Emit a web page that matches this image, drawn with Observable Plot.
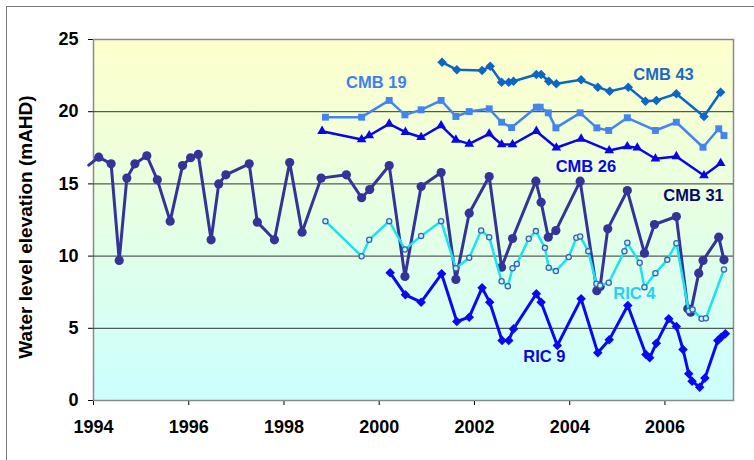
<!DOCTYPE html>
<html>
<head>
<meta charset="utf-8">
<script src="https://cdn.jsdelivr.net/npm/d3@7"></script>
<script src="https://cdn.jsdelivr.net/npm/@observablehq/plot@0.6"></script>
<style>
  html, body { margin: 0; padding: 0; background: #ffffff; overflow: hidden; }
  #wrap { position: relative; width: 754px; height: 460px; }
  #outer { position: absolute; left: 6px; top: 6px; width: 900px; height: 600px;
           border-top: 1px solid #7a7a7a; border-left: 1px solid #7a7a7a; pointer-events: none; }
  #chart { position: absolute; left: 0; top: 0; }
</style>
</head>
<body>
<div id="wrap"><div id="chart"></div><div id="outer"></div></div>
<script>
// ---- data (years as decimal, water level elevation in mAHD) ----
const xTicks = [1994, 1996, 1998, 2000, 2002, 2004, 2006];
const yTicks = [0, 5, 10, 15, 20, 25];

const cmb31X = [1993.9,1994.11,1994.37,1994.54,1994.70,1994.87,1995.12,1995.34,1995.61,1995.87,1996.04,1996.20,1996.47,1996.63,1996.78,1997.27,1997.44,1997.80,1998.12,1998.38,1998.78,1999.31,1999.63,1999.80,2000.21,2000.54,2000.88,2001.30,2001.61,2001.89,2002.31,2002.57,2002.80,2003.29,2003.40,2003.55,2003.71,2004.22,2004.57,2004.64,2004.80,2005.21,2005.57,2005.78,2006.24,2006.48,2006.54,2006.71,2006.80,2007.13,2007.24];
const cmb31Y = [16.3,16.85,16.39,9.70,15.40,16.39,16.95,15.28,12.42,16.27,16.81,17.04,11.13,15.0,15.63,16.39,12.35,11.13,16.48,11.66,15.40,15.63,14.04,14.61,16.27,8.59,14.82,15.79,8.38,12.97,15.51,9.23,11.22,15.19,13.73,11.31,11.77,15.19,7.6,7.9,11.89,14.54,10.20,12.19,12.74,6.35,6.12,8.82,9.70,11.31,9.74];

const ric4X = [1998.87,1999.63,1999.79,2000.21,2000.54,2000.88,2001.30,2001.61,2001.89,2002.14,2002.31,2002.57,2002.70,2002.80,2002.89,2003.14,2003.29,2003.48,2003.56,2003.71,2003.98,2004.14,2004.22,2004.39,2004.56,2004.64,2004.82,2005.15,2005.21,2005.47,2005.57,2005.80,2006.05,2006.24,2006.50,2006.58,2006.77,2006.86,2007.24];
const ric4Y = [12.42,9.99,11.13,12.42,10.46,11.40,12.42,9.16,9.88,11.77,11.31,8.26,7.92,9.16,9.46,11.2,11.73,10.57,9.19,8.96,9.93,11.27,11.36,10.34,8.08,7.96,8.15,10.34,10.92,9.54,7.85,8.82,9.74,10.89,6.2,6.3,5.66,5.70,9.07];

const ric9X = [2000.23,2000.55,2000.88,2001.31,2001.63,2001.89,2002.16,2002.32,2002.58,2002.72,2002.82,2003.30,2003.40,2003.74,2004.24,2004.59,2004.83,2005.22,2005.60,2005.68,2005.82,2006.08,2006.24,2006.38,2006.50,2006.57,2006.73,2006.84,2007.11,2007.18,2007.27];
const ric9Y = [8.84,7.32,6.81,8.77,5.47,5.77,7.80,6.81,4.16,4.16,4.96,7.39,6.81,3.81,7.04,3.30,4.20,6.58,3.19,2.96,3.97,5.66,5.12,3.53,1.85,1.34,0.92,1.55,4.16,4.38,4.62];

const cmb19X = [1998.87,1999.63,2000.21,2000.54,2000.88,2001.30,2001.61,2001.89,2002.31,2002.57,2002.78,2003.30,2003.38,2003.55,2003.71,2004.22,2004.57,2004.82,2005.21,2005.80,2006.24,2006.80,2007.13,2007.24];
const cmb19Y = [19.62,19.62,20.78,19.78,20.13,20.78,19.67,20.01,20.20,19.27,18.9,20.31,20.31,19.92,18.88,19.92,18.88,18.70,19.58,18.70,19.27,17.54,18.82,18.35];

const cmb26X = [1998.80,1999.63,1999.79,2000.21,2000.55,2000.88,2001.30,2001.61,2001.89,2002.31,2002.57,2002.80,2003.30,2003.72,2004.24,2004.83,2005.21,2005.42,2005.80,2006.24,2006.82,2007.17];
const cmb26Y = [18.65,18.07,18.35,19.16,18.58,18.23,19.04,18.05,17.77,18.47,17.73,17.73,18.65,17.50,18.12,17.31,17.59,17.50,16.74,16.90,15.58,16.43];

const cmb43X = [2001.32,2001.63,2002.16,2002.33,2002.57,2002.72,2002.82,2003.30,2003.40,2003.56,2003.72,2004.24,2004.59,2004.84,2005.23,2005.59,2005.82,2006.24,2006.82,2007.17];
const cmb43Y = [23.43,22.90,22.85,23.15,22.04,22.04,22.11,22.58,22.58,22.11,21.93,22.21,21.70,21.42,21.70,20.73,20.78,21.24,19.67,21.35];

const seriesNames = ["CMB 19", "CMB 43", "CMB 26", "CMB 31", "RIC 4", "RIC 9"];
const labelX = [1999.94, 2005.97, 2004.34, 2006.60, 2005.36, 2003.47];
const labelY = [22.02, 22.58, 16.2, 14.2, 7.41, 3.05];
const yTitle = "Water level elevation (mAHD)";

// ---- build tables ----
const mk = (xs, ys) => xs.map((x, i) => ({x, y: ys[i]}));
const cmb31 = mk(cmb31X, cmb31Y);
const ric4 = mk(ric4X, ric4Y);
const ric9 = mk(ric9X, ric9Y);
const cmb19 = mk(cmb19X, cmb19Y);
const cmb26 = mk(cmb26X, cmb26Y);
const cmb43 = mk(cmb43X, cmb43Y);
const labels = seriesNames.map((t, i) => ({t, x: labelX[i], y: labelY[i]}));
const xMin = 1994, xMax = 2007.44;
const inRange = d => d.x >= xMin;

const colors = {
  "CMB 31": "#333399", "RIC 4": "#19e3ef", "RIC 9": "#0a0af2",
  "CMB 19": "#4284f0", "CMB 26": "#0606e6", "CMB 43": "#0b66c6"
};
const labelColors = ["#3f80f0", "#1a6ac6", "#0808e6", "#0a0a66", "#22d2f4", "#0a0ad0"];
const diamond = d3.symbolDiamond2 || "diamond";

const chart = Plot.plot({
  width: 754,
  height: 460,
  marginLeft: 93,
  marginRight: 21,
  marginTop: 39,
  marginBottom: 60,
  style: {fontFamily: "'Liberation Sans', Arial, sans-serif", fontSize: "18px", fontWeight: "bold", background: "transparent", color: "#000"},
  x: {domain: [xMin, xMax], ticks: xTicks, tickFormat: "d", tickSize: 5, tickPadding: 15, label: null, line: true},
  y: {domain: [0, 25], ticks: yTicks, tickSize: 5, tickPadding: 10, label: null, line: true},
  marks: [
    Plot.frame({fill: "url(#bggrad)", stroke: "#8a8a8a", strokeWidth: 1.5}),
    Plot.ruleY(yTicks.filter(v => v > 0 && v < 25), {stroke: "#333", strokeWidth: 1}),
    // CMB 31
    Plot.line(cmb31, {x: "x", y: "y", stroke: colors["CMB 31"], strokeWidth: 3}),
    Plot.dot(cmb31.filter(inRange), {x: "x", y: "y", r: 4.6, fill: colors["CMB 31"], symbol: "circle"}),
    // RIC 4
    Plot.line(ric4, {x: "x", y: "y", stroke: colors["RIC 4"], strokeWidth: 2.5}),
    Plot.dot(ric4, {x: "x", y: "y", r: 2.6, fill: "#bff6ff", stroke: "#3a62b0", strokeWidth: 1.3}),
    // RIC 9
    Plot.line(ric9, {x: "x", y: "y", stroke: colors["RIC 9"], strokeWidth: 3}),
    Plot.dot(ric9, {x: "x", y: "y", r: 4.3, fill: colors["RIC 9"], symbol: diamond}),
    // CMB 19
    Plot.line(cmb19, {x: "x", y: "y", stroke: colors["CMB 19"], strokeWidth: 2.5}),
    Plot.dot(cmb19, {x: "x", y: "y", r: 3.9, fill: colors["CMB 19"], symbol: "square"}),
    // CMB 26
    Plot.line(cmb26, {x: "x", y: "y", stroke: colors["CMB 26"], strokeWidth: 2.5}),
    Plot.dot(cmb26, {x: "x", y: "y", r: 3.6, fill: colors["CMB 26"], symbol: "triangle"}),
    // CMB 43
    Plot.line(cmb43, {x: "x", y: "y", stroke: colors["CMB 43"], strokeWidth: 2.5}),
    Plot.dot(cmb43, {x: "x", y: "y", r: 4.3, fill: colors["CMB 43"], symbol: diamond}),
    // series labels
    Plot.text(labels, {x: "x", y: "y", text: "t", fill: (d, i) => labelColors[i], fontSize: 16.5, fontWeight: "bold", textAnchor: "middle"}),
    // y title
    Plot.text([yTitle], {frameAnchor: "left", text: d => d, rotate: -90, dx: -68, dy: 7, textAnchor: "middle", lineAnchor: "middle", fontSize: 19, fontWeight: "bold", fill: "#000"})
  ]
});

const svg = d3.select(chart);
const defs = svg.insert("defs", ":first-child");
const grad = defs.append("linearGradient").attr("id", "bggrad").attr("x1", 0).attr("y1", 0).attr("x2", 0).attr("y2", 1);
grad.append("stop").attr("offset", "0%").attr("stop-color", "#ffffcc");
grad.append("stop").attr("offset", "45%").attr("stop-color", "#e8ffe2");
grad.append("stop").attr("offset", "100%").attr("stop-color", "#ccffff");

document.getElementById("chart").appendChild(chart);
</script>
</body>
</html>
